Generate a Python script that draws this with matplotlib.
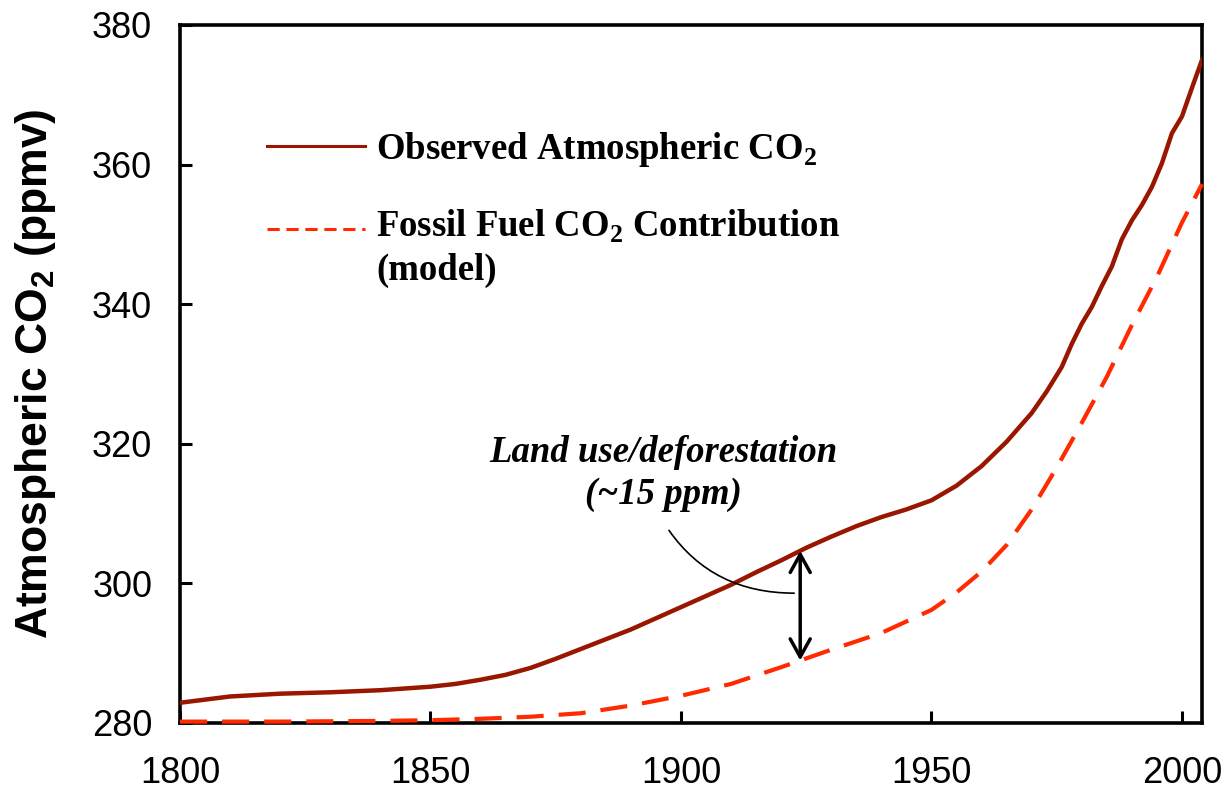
import matplotlib.pyplot as plt
import numpy as np

# observed atmospheric CO2 (ppmv)
obs_years = [1800, 1810, 1820, 1830, 1840, 1850, 1855, 1860, 1865, 1870, 1875,
             1880, 1885, 1890, 1895, 1900, 1905, 1910, 1915, 1920, 1925, 1930,
             1935, 1940, 1945, 1950, 1955, 1960, 1965, 1970, 1973, 1976, 1978,
             1980, 1982, 1984, 1986, 1988, 1990, 1992, 1994, 1996, 1998, 2000,
             2002, 2004]
obs_co2 = [282.9, 283.8, 284.2, 284.4, 284.7, 285.2, 285.6, 286.2, 286.9, 287.9,
           289.2, 290.6, 292.0, 293.4, 295.0, 296.6, 298.2, 299.8, 301.6, 303.3,
           305.1, 306.7, 308.2, 309.5, 310.6, 311.9, 314.0, 316.8, 320.3, 324.4,
           327.5, 331.0, 334.3, 337.2, 339.6, 342.6, 345.4, 349.3, 352.0, 354.2,
           356.8, 360.2, 364.5, 366.9, 371.0, 375.0]

# fossil fuel contribution (model)
ff_years = [1800, 1820, 1840, 1850, 1860, 1870, 1880, 1890, 1900, 1910, 1920,
            1930, 1940, 1950, 1955, 1960, 1965, 1970, 1975, 1980, 1985, 1990,
            1995, 2000, 2004]
ff_co2 = [280.2, 280.2, 280.3, 280.4, 280.6, 280.9, 281.4, 282.5, 283.9, 285.6,
          288.0, 290.5, 292.9, 296.2, 298.7, 301.7, 305.5, 310.6, 316.6, 323.0,
          329.6, 337.0, 343.9, 351.7, 357.2]

xticks = [1800, 1850, 1900, 1950, 2000]
yticks = [280, 300, 320, 340, 360, 380]

obs_color = "#991600"
ff_color = "#ff2a00"
serif_b = dict(family="Liberation Serif", weight="bold")

fig = plt.figure(figsize=(12.3, 7.98), dpi=100)
ax = fig.add_axes([180/1230, 75/798, 1022/1230, 698/798])

ax.plot(obs_years, obs_co2, color=obs_color, lw=3.2, zorder=3)
ax.plot(ff_years, ff_co2, color=ff_color, lw=3.0, dashes=(6.5, 3.6),
        clip_on=False, zorder=3)

ax.set_xlim(1800, 2004)
ax.set_ylim(280, 380)
ax.set_xticks(xticks)
ax.set_yticks(yticks)
for s in ax.spines.values():
    s.set_linewidth(2.6)
ax.tick_params(direction="in", length=8.6, width=2.2, labelsize=26)
ax.tick_params(axis="x", pad=24)
ax.tick_params(axis="y", pad=20)
for lab in ax.get_xticklabels() + ax.get_yticklabels():
    lab.set_fontfamily("Liberation Sans")

ax.set_ylabel("Atmospheric CO$_\\mathregular{2}$ (ppmv)", fontsize=32,
              family="Liberation Sans", weight="bold")
ax.yaxis.set_label_coords(-0.119, 0.5)

# hand-made legend
ax.plot([0.085, 0.181], [0.8266, 0.8266], transform=ax.transAxes,
        color=obs_color, lw=2.2)
ax.plot([0.085, 0.181], [0.7077, 0.7077], transform=ax.transAxes,
        color=ff_color, lw=2.2, dashes=(4, 2.2))
ax.text(0.192, 0.822, "Observed Atmospheric CO$_\\mathregular{2}$",
        transform=ax.transAxes, fontsize=26.5, va="center", **serif_b)
ax.text(0.192, 0.712, "Fossil Fuel CO$_\\mathregular{2}$ Contribution",
        transform=ax.transAxes, fontsize=26.5, va="center", **serif_b)
ax.text(0.192, 0.649, "(model)", transform=ax.transAxes, fontsize=26.5,
        va="center", **serif_b)

# land use annotation
ax.text(1896.5, 318.8, "Land use/deforestation", fontsize=26.5, ha="center",
        va="center", style="italic", **serif_b)
ax.text(1896.5, 312.7, "(~15 ppm)", fontsize=26.5, ha="center",
        va="center", style="italic", **serif_b)

x_arr = 1923.8
top = np.interp(x_arr, obs_years, obs_co2)
bot = np.interp(x_arr, ff_years, ff_co2)
ax.annotate("", xy=(x_arr, bot), xytext=(x_arr, top),
            arrowprops=dict(arrowstyle="<->,head_length=0.65,head_width=0.36",
                            color="black", lw=2.5, mutation_scale=20,
                            shrinkA=0, shrinkB=0))
ax.annotate("", xy=(1922.6, 298.6), xytext=(1897.6, 307.6),
            arrowprops=dict(arrowstyle="-", color="black", lw=1.2,
                            shrinkA=0, shrinkB=0,
                            connectionstyle="angle3,angleA=-55,angleB=0"))

fig.savefig("out.png", dpi=100)
